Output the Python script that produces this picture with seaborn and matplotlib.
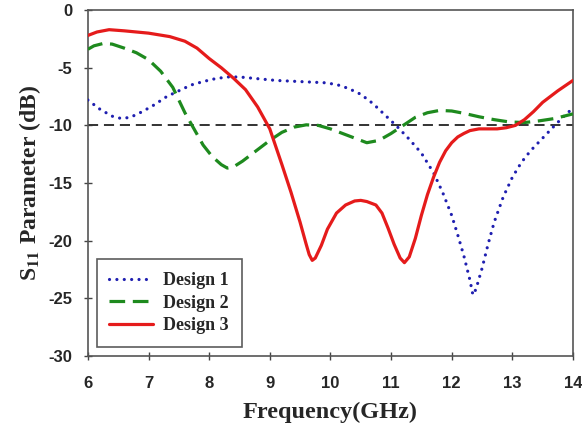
import matplotlib
matplotlib.use("Agg")
import matplotlib.pyplot as plt
import seaborn as sns
import pandas as pd

# Measured return loss of the three designs
freq_d1 = [6.0, 6.2, 6.4, 6.55, 6.7, 6.9, 7.1, 7.3, 7.5, 7.7, 7.9, 8.1, 8.3, 8.5, 8.7, 9.1,
           9.5, 9.9, 10.1, 10.3, 10.5, 10.7, 10.9, 11.1, 11.3, 11.5, 11.7, 11.85, 12.0, 12.1,
           12.2, 12.3, 12.35, 12.4, 12.5, 12.6, 12.7, 12.85, 13.0, 13.15, 13.3, 13.5, 13.7,
           13.85, 14.0]
s11_d1 = [-7.8, -8.6, -9.2, -9.4, -9.3, -8.8, -8.2, -7.5, -7.0, -6.5, -6.2, -5.95, -5.8,
          -5.8, -5.9, -6.1, -6.2, -6.3, -6.45, -6.8, -7.3, -8.1, -9.1, -10.1, -11.2, -12.4,
          -14.1, -15.8, -17.8, -19.5, -21.3, -23.4, -24.7, -24.2, -22.4, -20.3, -18.4,
          -16.2, -14.5, -13.2, -12.2, -11.1, -10.0, -9.2, -8.5]

freq_d2 = [6.0, 6.1, 6.25, 6.4, 6.6, 6.8, 7.0, 7.2, 7.4, 7.6, 7.75, 7.9, 8.05, 8.2, 8.3, 8.4,
           8.55, 8.75, 9.0, 9.2, 9.4, 9.6, 9.8, 10.0, 10.2, 10.4, 10.6, 10.8, 11.0, 11.2,
           11.4, 11.6, 11.8, 12.0, 12.2, 12.45, 12.7, 12.95, 13.2, 13.45, 13.7, 14.0]
s11_d2 = [-3.4, -3.1, -2.9, -2.95, -3.3, -3.7, -4.3, -5.3, -6.7, -8.9, -10.3, -11.7, -12.7,
          -13.4, -13.7, -13.6, -13.1, -12.3, -11.3, -10.6, -10.15, -9.95, -10.0, -10.3,
          -10.7, -11.1, -11.5, -11.3, -10.7, -10.0, -9.3, -8.9, -8.7, -8.75, -8.95, -9.25,
          -9.5, -9.7, -9.75, -9.6, -9.4, -9.0]

freq_d3 = [6.0, 6.15, 6.35, 6.6, 7.0, 7.35, 7.6, 7.8, 8.0, 8.2, 8.4, 8.6, 8.8, 9.0, 9.2,
           9.35, 9.5, 9.6, 9.65, 9.7, 9.75, 9.85, 9.95, 10.1, 10.25, 10.4, 10.5, 10.6, 10.75,
           10.85, 10.95, 11.05, 11.15, 11.22, 11.3, 11.4, 11.5, 11.6, 11.7, 11.8, 11.9, 12.0,
           12.1, 12.2, 12.3, 12.45, 12.6, 12.75, 12.9, 13.05, 13.2, 13.35, 13.5, 13.75, 14.0]
s11_d3 = [-2.2, -1.9, -1.7, -1.8, -2.0, -2.3, -2.7, -3.3, -4.2, -5.0, -5.9, -6.9, -8.4,
          -10.3, -13.4, -15.8, -18.4, -20.3, -21.2, -21.7, -21.5, -20.4, -19.0, -17.6,
          -16.9, -16.55, -16.5, -16.6, -16.9, -17.6, -18.9, -20.3, -21.5, -21.9, -21.4,
          -19.8, -17.8, -16.0, -14.5, -13.2, -12.2, -11.5, -11.0, -10.7, -10.45, -10.3,
          -10.3, -10.3, -10.2, -10.0, -9.5, -8.8, -8.0, -7.0, -6.1]

labels = ["Design 1", "Design 2", "Design 3"]
threshold_db = -10
x_ticks = [6, 7, 8, 9, 10, 11, 12, 13, 14]
y_ticks = [0, -5, -10, -15, -20, -25, -30]

frames = []
for name, f, s in zip(labels, [freq_d1, freq_d2, freq_d3], [s11_d1, s11_d2, s11_d3]):
    frames.append(pd.DataFrame({"Frequency": f, "S11": s, "Design": name}))
df = pd.concat(frames, ignore_index=True)

sns.set_theme(style="white")
plt.rcParams["mathtext.fontset"] = "stix"

fig = plt.figure(figsize=(5.82, 4.38), dpi=100)
ax = fig.add_axes([0.151, 0.187, 0.8335, 0.790])

# -10 dB reference
ax.axhline(threshold_db, color="#333333", lw=1.4, ls=(0, (5.2, 3.0)), zorder=1)

styles = {
    "Design 1": dict(color="#1f1fb0", ls=(0, (0.01, 2.3)), lw=2.3, cap="round"),
    "Design 2": dict(color="#1e8a1e", ls=(0, (4.9, 2.4)), lw=2.3, cap="butt"),
    "Design 3": dict(color="#e51b1b", ls="-", lw=2.3, cap="round"),
}
for name in labels:
    sub = df[df["Design"] == name]
    st = styles[name]
    sns.lineplot(data=sub, x="Frequency", y="S11", ax=ax, label=name,
                 color=st["color"], lw=st["lw"], sort=False, zorder=3)
    line = ax.lines[-1]
    line.set_linestyle(st["ls"])
    line.set_dash_capstyle(st["cap"])
    line.set_solid_joinstyle("round")

ax.set_xlim(6, 14)
ax.set_ylim(-30, 0)
ax.set_xticks(x_ticks)
ax.set_yticks(y_ticks)
ax.set_xticklabels([str(t) for t in x_ticks], fontfamily="Liberation Sans",
                   fontweight="bold", fontsize=12)
ax.set_yticklabels([str(t) for t in y_ticks], fontfamily="Liberation Sans",
                   fontweight="bold", fontsize=12)
ax.tick_params(axis="x", direction="inout", length=6, width=1, color="#444444",
               bottom=True, pad=11)
ax.tick_params(axis="y", direction="inout", length=6, width=1, color="#444444",
               left=True, pad=8)

for sp in ax.spines.values():
    sp.set_color("#555555")
    sp.set_linewidth(1.2)

ax.set_xlabel("Frequency(GHz)", fontfamily="Liberation Serif", fontweight="bold",
              fontsize=17.5, labelpad=8)
ax.set_ylabel(r"S$_{\mathbf{11}}$ Parameter (dB)", fontfamily="Liberation Serif",
              fontweight="bold", fontsize=17, labelpad=4)

leg = ax.legend(loc="lower left", bbox_to_anchor=(0.018, 0.026), frameon=True,
                fancybox=False, edgecolor="#333333", handlelength=2.4,
                prop={"family": "Liberation Serif", "weight": "bold", "size": 13},
                borderpad=0.7, labelspacing=0.32, handletextpad=0.6, borderaxespad=0)
leg.get_frame().set_linewidth(1.2)

fig.savefig("out.png", dpi=100, facecolor="white")
